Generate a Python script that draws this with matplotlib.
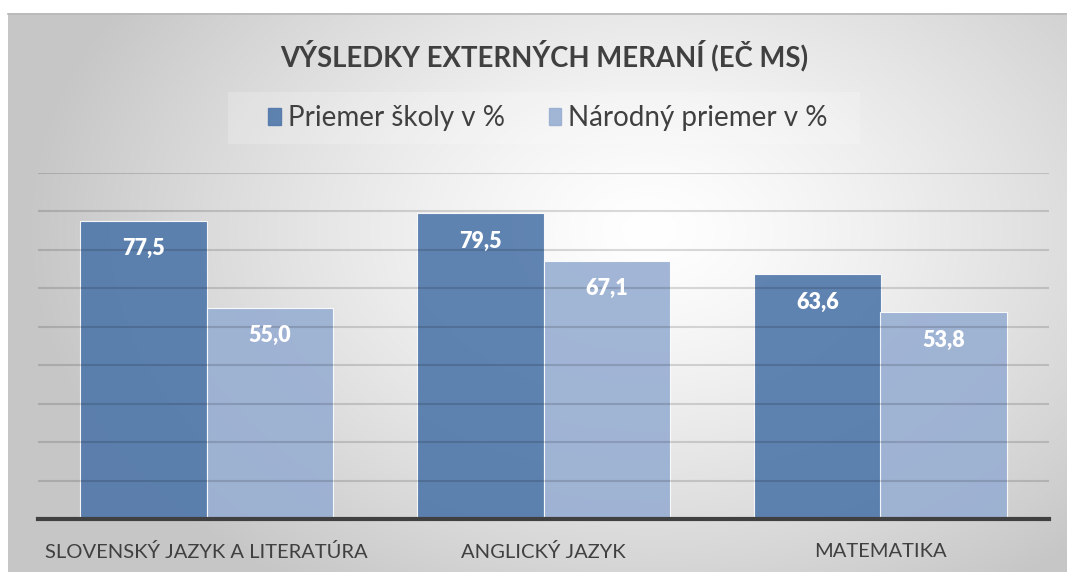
import numpy as np
import matplotlib.pyplot as plt
from matplotlib.patches import Patch, Rectangle

# data
predmety = ["SLOVENSKÝ JAZYK A LITERATÚRA", "ANGLICKÝ JAZYK", "MATEMATIKA"]
skola = [77.5, 79.5, 63.6]
narod = [55.0, 67.1, 53.8]
serie = ["Priemer školy v %", "Národný priemer v %"]

plt.rcParams['font.family'] = ['Lato', 'DejaVu Sans']

W, H = 1067, 572
fig = plt.figure(figsize=(W / 100, H / 100), dpi=100)

# pozadie grafu - radialny gradient
bg = fig.add_axes([8 / W, 0, 1 - 8 / W, (H - 13) / H])
xx, yy = np.meshgrid(np.linspace(8, W, 400), np.linspace(13, H, 200))
r = np.sqrt(((xx - 650) / 620) ** 2 + ((yy - 230) / 430) ** 2)
g = 1.0 - 0.22 * np.clip(r, 0, 1) ** 1.3
bg.imshow(np.dstack([g, g, g]), extent=[0, 1, 0, 1], aspect='auto', origin='upper')
bg.axis('off')
fig.add_artist(plt.Line2D([8 / W, 1], [(H - 13.5) / H] * 2, color='#b8b8b8', lw=1.2))

# ramcek legendy
fig.add_artist(Rectangle((228 / W, 1 - 144 / H), 632 / W, 52 / H, transform=fig.transFigure,
                         facecolor='#ffffff', alpha=0.2, edgecolor='none'))

ax = fig.add_axes([38 / W, (H - 519) / H, 1011 / W, (519 - 173) / H])
ax.patch.set_alpha(0)
x = np.arange(len(predmety))
w = 0.374
b1 = ax.bar(x - w / 2, skola, w, color='#4f77aa', alpha=0.9, edgecolor='#ffffff', linewidth=0.8, zorder=2)
b2 = ax.bar(x + w / 2, narod, w, color='#98aed2', alpha=0.9, edgecolor='#ffffff', linewidth=0.8, zorder=2)

ax.set_ylim(0, 90)
ax.set_xlim(-0.5, 2.5)
ax.set_yticks(np.arange(10, 91, 10))
ax.yaxis.grid(True, color='#000000', alpha=0.14, lw=1.5, zorder=3)
ax.set_axisbelow(False)
ax.tick_params(axis='y', left=False, labelleft=False)
ax.tick_params(axis='x', length=0, pad=17, labelsize=14.5, labelcolor='#404040')
ax.set_xticks(x)
ax.set_xticklabels(predmety)
for s in ['top', 'right', 'left']:
    ax.spines[s].set_visible(False)
ax.spines['bottom'].set_color('#404040')
ax.spines['bottom'].set_linewidth(3)
ax.spines['bottom'].set_zorder(4)

for bars in (b1, b2):
    for rect in bars:
        v = rect.get_height()
        ax.annotate(("%.1f" % v).replace('.', ','),
                    (rect.get_x() + rect.get_width() / 2, v),
                    xytext=(0, -20), textcoords='offset points',
                    ha='center', va='center', color='white',
                    fontsize=15.5, fontweight='heavy', zorder=5)

fig.text(544 / W, 1 - 56 / H, "VÝSLEDKY EXTERNÝCH MERANÍ (EČ MS)",
         ha='center', va='center', fontsize=19.8, fontweight='bold', color='#404040')

handles = [Patch(color='#4f77aa', alpha=0.9), Patch(color='#98aed2', alpha=0.9)]
leg = fig.legend(handles, serie, loc='center', bbox_to_anchor=(548 / W, 1 - 118 / H),
                 ncol=2, frameon=False, fontsize=20, handlelength=0.45, handleheight=0.55,
                 handletextpad=0.25, columnspacing=1.6)
for t in leg.get_texts():
    t.set_color('#404040')

fig.savefig("out.png", dpi=100)
